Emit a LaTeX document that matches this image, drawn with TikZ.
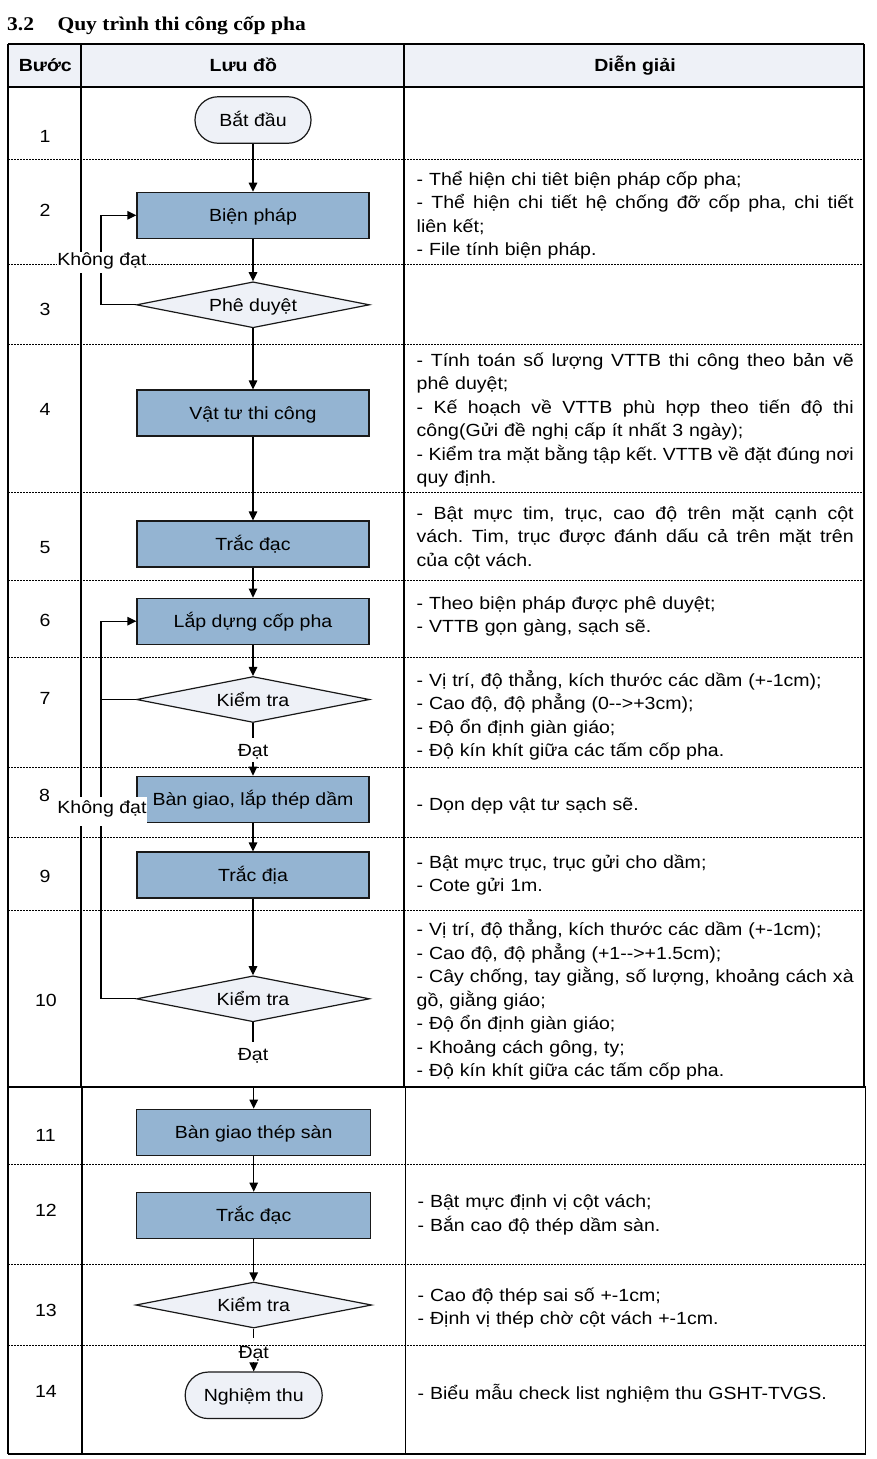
\documentclass[tikz,border=0pt]{standalone}
\usepackage{fontspec}
\setmainfont{Liberation Sans}[FakeStretch=1.11]
\newfontfamily\titlefont{Liberation Serif}[FakeStretch=1.11]
\usetikzlibrary{shapes.geometric,arrows.meta}
\definecolor{boxblue}{HTML}{94B4D2}
\definecolor{paleblue}{HTML}{EEF1F7}
\newcommand\J[1]{\leavevmode\hbox to 437pt{\spaceskip=0pt\xspaceskip=0pt #1}}
\begin{document}
\begin{tikzpicture}[x=1pt,y=-1pt,
  every node/.style={font=\frenchspacing\fontsize{17.6}{23.5}\selectfont, inner sep=0pt},
  tline/.style={line width=1.3pt},
  rowline/.style={line width=0.8pt, dash pattern=on 2pt off 1pt},
  proc/.style={draw=black!90, line width=1.2pt, fill=boxblue, minimum width=232pt, minimum height=46pt, text height=13.5pt, text depth=0.5pt},
  term/.style={draw=black!90, line width=1.2pt, fill=paleblue, rounded corners=23pt, minimum width=116pt, minimum height=46.5pt, text height=13.5pt, text depth=0.5pt},
  dec/.style={draw=black!90, line width=1.2pt, fill=paleblue, diamond, aspect=5, minimum width=233pt, minimum height=46pt, text height=13.5pt, text depth=0.5pt},
  conn/.style={line width=1.2pt},
  arr/.style={conn, -{Triangle[length=9pt,width=8.5pt]}},
  lbl/.style={fill=white, inner xsep=0.5pt, anchor=base},
  num/.style={anchor=base},
  desc/.style={anchor=base west, text width=437pt, align=left},
  head/.style={anchor=base, font=\fontsize{17.6}{23.5}\selectfont\bfseries},
  ttl/.style={anchor=base west, font=\titlefont\bfseries\fontsize{19.4}{23}\selectfont}
]
\useasboundingbox (0,0) rectangle (876,1459);
\fill[white] (0,0) rectangle (876,1459);
\fill[paleblue] (8,44) rectangle (864,87);

% flowchart nodes
\node[term] (start) at (253,120) {Bắt đầu};
\node[proc] (bp) at (253,215.3) {Biện pháp};
\node[dec] (pd) at (253,304.8) {Phê duyệt};
\node[proc] (vt) at (253,413) {Vật tư thi công};
\node[proc] (td5) at (253,544) {Trắc đạc};
\node[proc] (ld) at (253,621.2) {Lắp dựng cốp pha};
\node[dec] (k7) at (253,699.5) {Kiểm tra};
\node[proc] (bg) at (253,799.2) {Bàn giao, lắp thép dầm};
\node[proc] (tdia) at (253,875) {Trắc địa};
\node[dec] (k10) at (253,998.8) {Kiểm tra};
\node[proc, minimum width=234pt] (bgs) at (253.7,1132.2) {Bàn giao thép sàn};
\node[proc, minimum width=234pt] (td12) at (253.7,1215.3) {Trắc đạc};
\node[dec, minimum width=236pt] (k13) at (253.7,1305) {Kiểm tra};
\node[term, minimum width=137pt] (nt) at (253.7,1395.3) {Nghiệm thu};

% labels on connectors
\node[lbl, text height=18pt, text depth=6pt] (d7) at (253,756) {Đạt};
\node[lbl, text height=18pt, text depth=6pt] (d10) at (253,1060) {Đạt};
\node[lbl, text height=20pt, text depth=4pt] (d13) at (253.7,1358) {Đạt};
\coordinate (t11) at (253.7,1087);
\coordinate (lx) at (101,0);

% connectors
\draw[arr] (start) -- (bp);
\draw[arr] (bp) -- (pd);
\draw[arr] (pd) -- (vt);
\draw[arr] (vt) -- (td5);
\draw[arr] (td5) -- (ld);
\draw[arr] (ld) -- (k7);
\draw[conn] (k7) -- (d7);
\draw[arr] (d7) -- (bg);
\draw[arr] (bg) -- (tdia);
\draw[arr] (tdia) -- (k10);
\draw[conn] (k10) -- (d10);
\draw[arr] (t11) -- (bgs);
\draw[arr] (bgs) -- (td12);
\draw[arr] (td12) -- (k13);
\draw[conn] (k13) -- (d13);
\draw[arr] (d13) -- (nt);
\draw[arr] (pd.west) -- (pd.west -| lx) |- (bp.west);
\draw[conn] (k7.west) -- (k7.west -| lx);
\draw[arr] (k10.west) -- (k10.west -| lx) |- (ld.west);

% table lines
\draw[tline] (8,44) -- (864,44) (8,87) -- (864,87);
\draw[tline] (8,44) -- (8,1087) (81,44) -- (81,1087) (404,44) -- (404,1087) (864,44) -- (864,1087);
\draw[tline] (8,1087) -- (865.5,1087) (8,1454) -- (865.5,1454);
\draw[tline] (8,1087) -- (8,1454) (82,1087) -- (82,1454) (405.5,1087) -- (405.5,1454) (865.5,1087) -- (865.5,1454);
\foreach \yy in {159.3,264.3,344,492.7,580.7,657.3,767.3,837.7,910}
  \draw[rowline] (8,\yy) -- (864,\yy);
\foreach \yy in {1164.3,1264.3,1345.3}
  \draw[rowline] (8,\yy) -- (865.5,\yy);

% "Không đạt" labels
\node[lbl, text height=13pt, text depth=8pt] (kd1) at (102,265) {Không đạt};
\node[lbl, text height=16.3pt, text depth=13pt] (kd2) at (102,813.3) {Không đạt};

% title and header
\node[ttl] (t32) at (7,30.7) {3.2};
\node[ttl] (title) at (57.3,30.7) {Quy trình thi công cốp pha};
\node[head] (hb) at (45.3,71.7) {Bước};
\node[head] (hl) at (243.3,71.7) {Lưu đồ};
\node[head] (hd) at (635,71.7) {Diễn giải};

% step numbers
\node[num] (n1) at (45,142.7) {1};
\node[num] (n2) at (45,216.7) {2};
\node[num] (n3) at (45,315) {3};
\node[num] (n4) at (45,415.5) {4};
\node[num] (n5) at (45,553.5) {5};
\node[num] (n6) at (45,626.7) {6};
\node[num] (n7) at (45,704) {7};
\node[num] (n8) at (44.5,801.7) {8};
\node[num] (n9) at (45,882.5) {9};
\node[num] (n10) at (46,1006) {10};
\node[num] (n11) at (45.5,1141.7) {11};
\node[num] (n12) at (46,1216) {12};
\node[num] (n13) at (46,1316.7) {13};
\node[num] (n14) at (46,1397) {14};

% descriptions
\node[desc] (e2) at (416.5,185) {- Thể hiện chi tiêt biện pháp cốp pha;\\\J{- Thể hiện chi tiết hệ chống đỡ cốp pha, chi tiết}\\liên kết;\\- File tính biện pháp.};
\node[desc] (e4) at (416.5,366) {\J{- Tính toán số lượng VTTB thi công theo bản vẽ}\\phê duyệt;\\\J{- Kế hoạch về VTTB phù hợp theo tiến độ thi}\\công(Gửi đề nghị cấp ít nhất 3 ngày);\\\J{- Kiểm tra mặt bằng tập kết. VTTB về đặt đúng nơi}\\quy định.};
\node[desc] (e5) at (416.5,519) {\J{- Bật mực tim, trục, cao độ trên mặt cạnh cột}\\\J{vách. Tim, trục được đánh dấu cả trên mặt trên}\\của cột vách.};
\node[desc] (e6) at (416.5,609.3) {- Theo biện pháp được phê duyệt;\\- VTTB gọn gàng, sạch sẽ.};
\node[desc] (e7) at (416.5,686) {- Vị trí, độ thẳng, kích thước các dầm (+-1cm);\\- Cao độ, độ phẳng (0-{}->+3cm);\\- Độ ổn định giàn giáo;\\- Độ kín khít giữa các tấm cốp pha.};
\node[desc] (e8) at (416.5,810) {- Dọn dẹp vật tư sạch sẽ.};
\node[desc] (e9) at (416.5,868) {- Bật mực trục, trục gửi cho dầm;\\- Cote gửi 1m.};
\node[desc] (e10) at (416.5,935.5) {- Vị trí, độ thẳng, kích thước các dầm (+-1cm);\\- Cao độ, độ phẳng (+1-{}->+1.5cm);\\\J{- Cây chống, tay giằng, số lượng, khoảng cách xà}\\gồ, giằng giáo;\\- Độ ổn định giàn giáo;\\- Khoảng cách gông, ty;\\- Độ kín khít giữa các tấm cốp pha.};
\node[desc] (e12) at (417.5,1207.5) {- Bật mực định vị cột vách;\\- Bắn cao độ thép dầm sàn.};
\node[desc] (e13) at (417.5,1301) {- Cao độ thép sai số +-1cm;\\- Định vị thép chờ cột vách +-1cm.};
\node[desc] (e14) at (417.5,1399) {- Biểu mẫu check list nghiệm thu GSHT-TVGS.};
\end{tikzpicture}
\end{document}
